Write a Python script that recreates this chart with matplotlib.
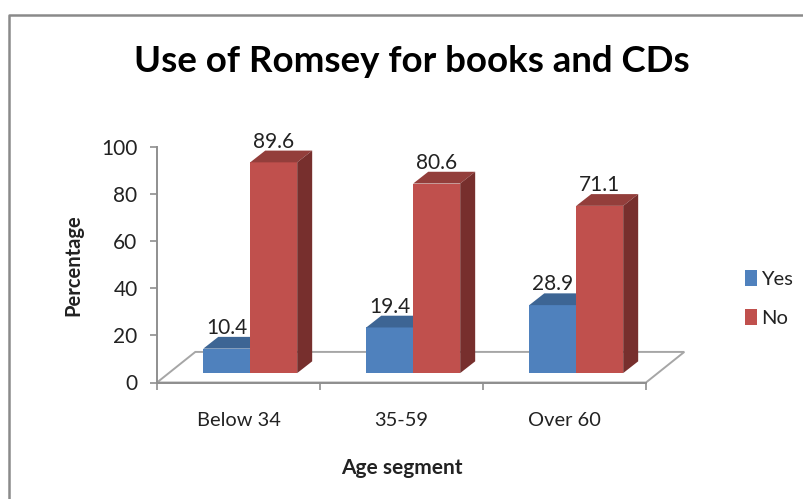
import matplotlib
matplotlib.use('Agg')
import matplotlib.pyplot as plt
from matplotlib.lines import Line2D
from matplotlib.patches import Polygon

plt.rcParams['font.family'] = ['Lato', 'DejaVu Sans']

# Data
categories = ['Below 34', '35-59', 'Over 60']
yes_values = [10.4, 19.4, 28.9]
no_values = [89.6, 80.6, 71.1]
y_ticks = [0, 20, 40, 60, 80, 100]

# 3D look, in data units
bar_w = 0.288
base = 4.0
side_dx = 0.092
side_dy = 5.0
floor_dx = 0.235
floor_dy = 13.0
first_bar = 0.284

grey = '#8f8f8f'
text_col = '#222222'

fig = plt.figure(figsize=(8.04, 4.99), dpi=100)
ax = fig.add_axes([157 / 804, 1 - 382.5 / 499, (646 - 157) / 804, (382.5 - 147.3) / 499])
ax.set_xlim(0, 3)
ax.set_ylim(0, 100)
ax.patch.set_visible(False)

# outer frame runs off the right and bottom of the picture
fig.add_artist(Line2D([9.5 / 804, 9.5 / 804, 1], [0, 1 - 14.5 / 499, 1 - 14.5 / 499], color='#8a8a8a', lw=1.8))

# floor
floor = Polygon([(0, 0), (floor_dx, floor_dy), (3 + floor_dx, floor_dy), (3, 0)],
                closed=True, fill=False, edgecolor='#a6a6a6', lw=1.4, clip_on=False, zorder=1)
ax.add_patch(floor)


def draw_bars(left, values, front, top, side, label, z):
    ax.bar(left, values, width=bar_w, bottom=base, align='edge', color=front,
           label=label, zorder=z)
    for x0, v in zip(left, values):
        y1 = base + v
        ax.add_patch(Polygon([(x0, y1), (x0 + side_dx, y1 + side_dy),
                              (x0 + bar_w + side_dx, y1 + side_dy), (x0 + bar_w, y1)],
                             closed=True, color=top, lw=0, clip_on=False, zorder=z))
        ax.add_patch(Polygon([(x0 + bar_w, base), (x0 + bar_w + side_dx, base + side_dy),
                              (x0 + bar_w + side_dx, y1 + side_dy), (x0 + bar_w, y1)],
                             closed=True, color=side, lw=0, clip_on=False, zorder=z))
        ax.text(x0 + bar_w / 2, y1 + 8.8, f'{v:.1f}', ha='center', va='center',
                fontsize=15, color=text_col, zorder=6)


yes_left = [i + first_bar for i in range(3)]
no_left = [i + first_bar + bar_w for i in range(3)]
draw_bars(yes_left, yes_values, '#4f81bd', '#3d6594', '#3a5f8a', 'Yes', 3)
# red goes on top so it hides the blue side
draw_bars(no_left, no_values, '#c0504d', '#933e3b', '#772f2d', 'No', 4)

# axes
for s in ['top', 'right']:
    ax.spines[s].set_visible(False)
for s in ['left', 'bottom']:
    ax.spines[s].set_color(grey)
    ax.spines[s].set_linewidth(1.4)

ax.set_yticks(y_ticks)
ax.tick_params(axis='y', length=5, width=1.2, color=grey, labelsize=15, labelcolor=text_col, pad=9)
ax.set_xticks([0, 1, 2, 3])
ax.set_xticklabels([])
ax.set_xticks([0.5, 1.5, 2.5], minor=True)
ax.set_xticklabels(categories, minor=True)
ax.tick_params(axis='x', which='major', length=5, width=1.2, color=grey)
ax.tick_params(axis='x', which='minor', length=0, labelsize=14.4, labelcolor=text_col, pad=21.5)

ax.set_xlabel('Age segment', fontsize=15, fontweight='bold', color=text_col)
ax.xaxis.set_label_coords(0.5, -0.32)
ax.set_ylabel('Percentage', fontsize=14.5, fontweight='bold', color=text_col)
ax.yaxis.set_label_coords(-0.15, 0.5)

fig.text(412 / 804, 1 - 61 / 499, 'Use of Romsey for books and CDs', ha='center', va='center',
         fontsize=26.4, fontweight='bold', color='black')

handles, labels = ax.get_legend_handles_labels()
leg = ax.legend(handles, labels, loc='center left', bbox_to_anchor=(727 / 804, 1 - 298.5 / 499),
                bbox_transform=fig.transFigure, frameon=False, fontsize=14.5,
                handlelength=0.6, handleheight=0.85, handletextpad=0.2, labelspacing=1.0)
for t in leg.get_texts():
    t.set_color(text_col)

fig.savefig('out.png', dpi=100)
